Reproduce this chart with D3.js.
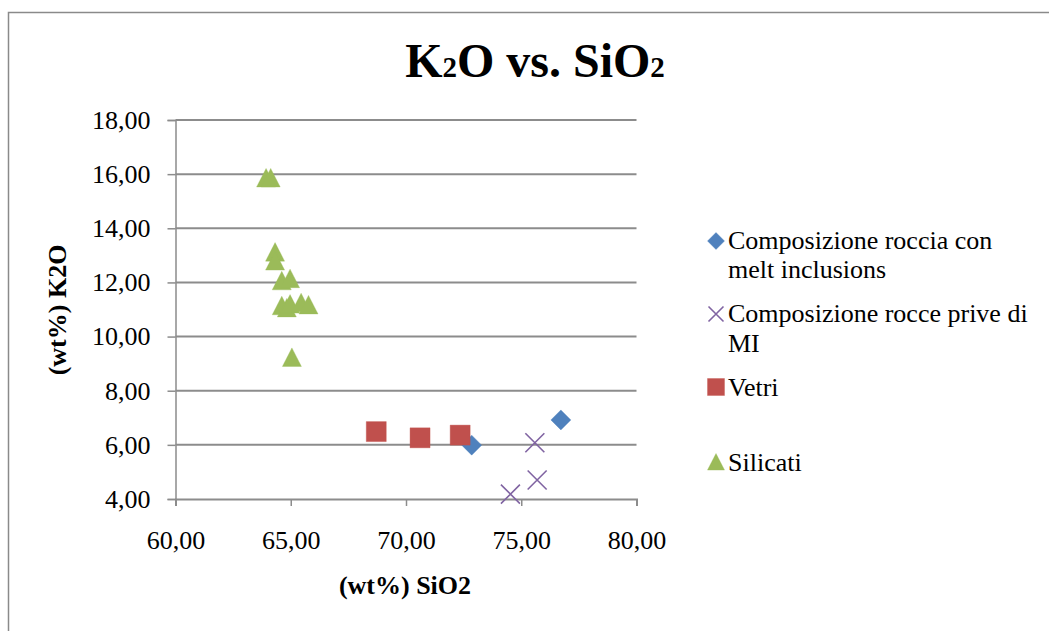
<!DOCTYPE html>
<html>
<head>
<meta charset="utf-8">
<script src="https://cdn.jsdelivr.net/npm/d3@7"></script>
<style>
  html, body { margin: 0; padding: 0; background: #fff; }
  svg { display: block; }
  svg text { font-family: 'Liberation Serif', 'Times New Roman', Times, serif; }
</style>
</head>
<body>
<svg id="chart" width="1049" height="631"></svg>
<script>
// Whole-rock, glass and silicate analyses: [SiO2 wt%, K2O wt%]
const compRoccia = [[72.85, 5.99], [76.72, 6.92]];
const compPrive  = [[75.59, 6.08], [75.69, 4.70], [74.53, 4.18]];
const vetri      = [[68.71, 6.49], [70.61, 6.26], [72.35, 6.36]];
const silicati   = [
  [63.93, 15.86], [64.13, 15.86],
  [64.32, 13.12], [64.32, 12.79],
  [64.61, 12.06], [64.97, 12.14],
  [64.61, 11.14], [64.83, 11.06], [64.97, 11.20], [65.45, 11.25], [65.77, 11.17],
  [65.05, 9.23]
];

const seriesNames = [
  ["Composizione roccia con", "melt inclusions"],
  ["Composizione rocce prive di", "MI"],
  ["Vetri"],
  ["Silicati"]
];
const xTicks = [60, 65, 70, 75, 80];
const yTicks = [4, 6, 8, 10, 12, 14, 16, 18];

const series = [
  { data: compRoccia, shape: "diamond",  color: "#4F81BD" },
  { data: compPrive,  shape: "cross",    color: "#8064A2" },
  { data: vetri,      shape: "square",   color: "#C0504D" },
  { data: silicati,   shape: "triangle", color: "#9BBB59" }
];

const SERIF = "'Liberation Serif', 'Times New Roman', Times, serif";

function draw() {
  const svg = d3.select("#chart");
  const plot = { left: 175.5, right: 636.5, top: 120, bottom: 499 };

  const x = d3.scaleLinear().domain([60, 80]).range([plot.left, plot.right]);
  const y = d3.scaleLinear().domain([4, 18]).range([plot.bottom, plot.top]);

  const itLocale = d3.formatLocale({ decimal: ",", thousands: ".", grouping: [3], currency: ["", " €"] });
  const fmt = itLocale.format(".2f");

  function label(sel, size, bold) {
    return sel
      .style("font-family", SERIF)
      .style("font-size", size + "px")
      .style("font-weight", bold ? "bold" : "normal")
      .attr("fill", "#000");
  }

  // Chart area frame
  svg.append("rect")
    .attr("x", 8.5).attr("y", 12.5)
    .attr("width", 1100).attr("height", 700)
    .attr("fill", "none").attr("stroke", "#8a8a8a").attr("stroke-width", 1.5);

  // Title with subscripts
  const title = label(svg.append("text"), 48, true)
    .attr("x", 535).attr("y", 77)
    .attr("text-anchor", "middle");
  title.append("tspan").text("K");
  title.append("tspan").text("2").style("font-size", "29px");
  title.append("tspan").text("O vs. SiO");
  title.append("tspan").text("2").style("font-size", "29px");

  // Horizontal gridlines
  svg.append("g")
    .selectAll("line")
    .data(yTicks.filter(d => d !== 4))
    .join("line")
    .attr("x1", plot.left).attr("x2", plot.right)
    .attr("y1", d => y(d)).attr("y2", d => y(d))
    .attr("stroke", "#8c8c8c").attr("stroke-width", 2);

  // Y axis
  const yAxis = d3.axisLeft(y).tickValues(yTicks).tickFormat(fmt).tickSize(8).tickPadding(17);
  const gy = svg.append("g").attr("transform", `translate(${plot.left},0)`).call(yAxis)
    .attr("font-family", null).attr("font-size", null);
  gy.select(".domain").attr("stroke", "#8c8c8c").attr("stroke-width", 1.5);
  gy.selectAll(".tick line").attr("stroke", "#8c8c8c").attr("stroke-width", 1.5);
  label(gy.selectAll(".tick text"), 26, false);

  // X axis
  const xAxis = d3.axisBottom(x).tickValues(xTicks).tickFormat(fmt).tickSize(7).tickPadding(25);
  const gx = svg.append("g").attr("transform", `translate(0,${plot.bottom})`).call(xAxis)
    .attr("font-family", null).attr("font-size", null);
  gx.select(".domain").attr("stroke", "#8c8c8c").attr("stroke-width", 2);
  gx.selectAll(".tick line").attr("stroke", "#8c8c8c").attr("stroke-width", 1.5);
  label(gx.selectAll(".tick text"), 26, false);

  // Axis titles
  label(svg.append("text"), 26, true)
    .attr("x", 405).attr("y", 594)
    .attr("text-anchor", "middle")
    .text("(wt%) SiO2");

  label(svg.append("text"), 26, true)
    .attr("transform", "translate(66,310) rotate(-90)")
    .attr("text-anchor", "middle")
    .text("(wt%) K2O");

  // Marker shapes, centred on (0,0), s = overall width
  function markerPath(shape, s) {
    const h = s / 2;
    switch (shape) {
      case "diamond":  return `M0,${-h}L${h},0L0,${h}L${-h},0Z`;
      case "square":   return `M${-h},${-h}H${h}V${h}H${-h}Z`;
      case "triangle": return `M0,${-h}L${h},${h * 0.95}L${-h},${h * 0.95}Z`;
      case "cross":    return `M${-h},${-h}L${h},${h}M${h},${-h}L${-h},${h}`;
    }
  }

  function drawMarker(g, shape, color, s) {
    const p = g.append("path").attr("d", markerPath(shape, s));
    if (shape === "cross") {
      p.attr("fill", "none").attr("stroke", color).attr("stroke-width", 1.6);
    } else {
      p.attr("fill", color).attr("stroke", color).attr("stroke-width", 0.6).attr("stroke-opacity", 0.6);
    }
  }

  // Data points
  const markerSize = { diamond: 20, cross: 19, square: 20, triangle: 19 };
  series.forEach(s => {
    const g = svg.append("g");
    s.data.forEach(d => {
      const m = g.append("g").attr("transform", `translate(${x(d[0])},${y(d[1])})`);
      drawMarker(m, s.shape, s.color, markerSize[s.shape]);
    });
  });

  // Legend
  const legendRows = [
    { markerY: 241, baselines: [249, 278] },
    { markerY: 314, baselines: [322, 352] },
    { markerY: 387, baselines: [396] },
    { markerY: 462, baselines: [471] }
  ];
  const legend = svg.append("g");
  series.forEach((s, i) => {
    const row = legendRows[i];
    const m = legend.append("g").attr("transform", `translate(716,${row.markerY})`);
    drawMarker(m, s.shape, s.color, s.shape === "cross" ? 15 : 17);
    seriesNames[i].forEach((line, j) => {
      label(legend.append("text"), 26, false)
        .attr("x", 728).attr("y", row.baselines[j])
        .text(line);
    });
  });
}

// Make sure the serif face is ready before laying out text
Promise.all([
  document.fonts.load("26px 'Liberation Serif'"),
  document.fonts.load("bold 26px 'Liberation Serif'")
]).then(draw, draw);
</script>
</body>
</html>
